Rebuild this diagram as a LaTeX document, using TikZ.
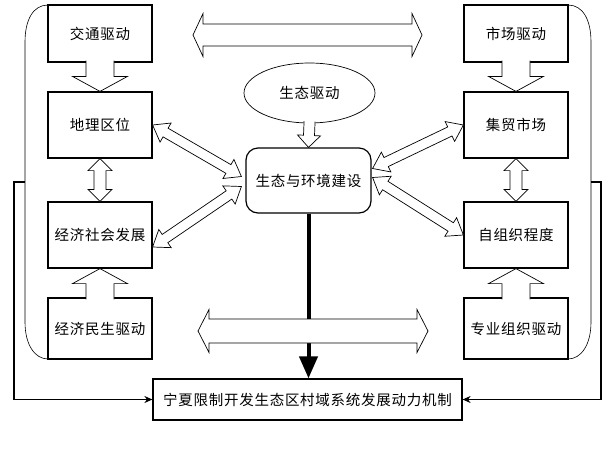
\documentclass[tikz,border=0pt]{standalone}
\usepackage{fontspec}
\usepackage{tikz}
\usetikzlibrary{calc,shapes.geometric,arrows.meta}
\newfontfamily\cjk[LetterSpace=5]{Noto Sans CJK SC}
\tikzset{
  box/.style={draw, line width=1.2pt, minimum width=104pt, minimum height=66pt, inner sep=0pt,
    font=\cjk\fontsize{14.5}{16}\selectfont},
  hollow/.style={draw, line width=0.7pt, line join=miter},
  feedback/.style={line width=1.3pt, -{Stealth[length=8pt,width=7pt]}},
}
\newcommand\hollowone[5]{%
  \coordinate (hs) at ($(#1)!-2pt!(#2)$);
  \coordinate (hb) at ($(#2)!#5!(#1)$);
  \fill[white] ($(hs)!#3!90:(#2)$) -- ($(hb)!#3!-90:(#1)$) -- ($(hb)!#4!-90:(#1)$) -- (#2)
    -- ($(hb)!#4!90:(#1)$) -- ($(hb)!#3!90:(#1)$) -- ($(hs)!#3!-90:(#2)$) -- cycle;
  \draw[hollow] ($(hs)!#3!90:(#2)$) -- ($(hb)!#3!-90:(#1)$) -- ($(hb)!#4!-90:(#1)$) -- (#2)
    -- ($(hb)!#4!90:(#1)$) -- ($(hb)!#3!90:(#1)$) -- ($(hs)!#3!-90:(#2)$);}
\newcommand\hollowtwo[5]{%
  \coordinate (ha) at ($(#1)!#5!(#2)$);
  \coordinate (hb) at ($(#2)!#5!(#1)$);
  \filldraw[hollow, fill=white] (#1) -- ($(ha)!#4!90:(#2)$) -- ($(ha)!#3!90:(#2)$) -- ($(hb)!#3!-90:(#1)$)
    -- ($(hb)!#4!-90:(#1)$) -- (#2) -- ($(hb)!#4!90:(#1)$) -- ($(hb)!#3!90:(#1)$)
    -- ($(ha)!#3!-90:(#2)$) -- ($(ha)!#4!-90:(#2)$) -- cycle;}
\begin{document}
\begin{tikzpicture}[x=1pt, y=-1pt]
\useasboundingbox (0,0) rectangle (608,448);
\draw[line width=0.6pt] (48,5) .. controls (33,5) and (25,20) .. (25,42) -- (25,322)
  .. controls (25,345) and (35,359) .. (48,359);
\draw[line width=0.6pt] (568,5) .. controls (583,5) and (591,20) .. (591,42) -- (591,322)
  .. controls (591,345) and (581,359) .. (568,359);
\node[box, minimum height=57pt] (jt) at (100,33.5) {交通驱动};
\node[box] (dl) at (100,125) {地理区位};
\node[box] (jj) at (100,235) {经济社会发展};
\node[box, minimum height=61pt] (jm) at (100,328.5) {经济民生驱动};
\node[box, minimum height=57pt] (sc) at (516,33.5) {市场驱动};
\node[box] (js) at (516,125) {集贸市场};
\node[box] (zz) at (516,235) {自组织程度};
\node[box, minimum height=61pt] (zy) at (516,328.5) {专业组织驱动};
\node[box, ellipse, line width=0.7pt, minimum width=131pt, minimum height=60pt] (st) at (309.5,93) {生态驱动};
\node[box, rounded corners=12pt, minimum width=125pt, minimum height=65pt] (ce) at (308.5,180.5) {生态与环境建设};
\node[box, minimum width=309pt, minimum height=41pt] (bx) at (307.5,399.5) {宁夏限制开发生态区村域系统发展动力机制};
\coordinate (lg) at (25,182);
\coordinate (rg) at (591,182);
\draw[feedback] (lg) -- ++(-11,0) |- (bx.west);
\draw[feedback] (rg) -- ++(10,0) |- (bx.east);
\draw[line width=4pt, -{Triangle[length=22pt,width=18pt]}] (ce.south) -- (ce.south |- bx.north);
\hollowone{jt.south}{dl.north}{14pt}{27.5pt}{15pt}
\hollowone{jm.north}{jj.south}{14pt}{27.5pt}{15pt}
\hollowone{sc.south}{js.north}{14pt}{27.5pt}{15pt}
\hollowone{zy.north}{zz.south}{14pt}{27.5pt}{15pt}
\hollowone{st.south}{ce.north}{5.5pt}{11.5pt}{12pt}
\hollowtwo{dl.south}{jj.north}{6pt}{12pt}{12pt}
\hollowtwo{js.south}{zz.north}{6pt}{12pt}{12pt}
\coordinate (cl1) at ($(ce.west)+(-4,-4)$);
\coordinate (cl2) at ($(ce.west)+(-4,6)$);
\coordinate (cr1) at ($(ce.east)+(1,-12)$);
\coordinate (cr2) at ($(ce.east)+(1,-3)$);
\coordinate (jjt) at ($(jj.east)+(0,12)$);
\hollowtwo{dl.east}{cl1}{5pt}{11pt}{15pt}
\hollowtwo{jjt}{cl2}{5pt}{11pt}{15pt}
\hollowtwo{js.west}{cr1}{5pt}{11pt}{15pt}
\hollowtwo{zz.west}{cr2}{5pt}{11pt}{15pt}
\coordinate (tl) at (193,35);
\coordinate (tr) at (422,35);
\coordinate (bl) at (198,331);
\coordinate (br) at (428,331);
\hollowtwo{tl}{tr}{11pt}{21.5pt}{10pt}
\hollowtwo{bl}{br}{12pt}{21.5pt}{11pt}
\end{tikzpicture}
\end{document}
